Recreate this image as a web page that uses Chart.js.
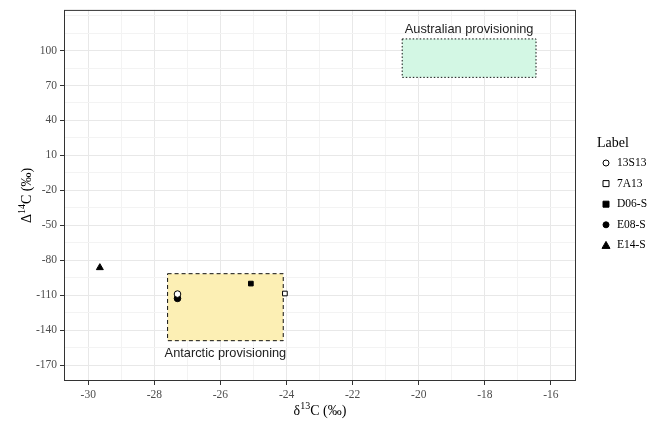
<!DOCTYPE html>
<html>
<head>
<meta charset="utf-8">
<script src="https://cdn.jsdelivr.net/npm/chart.js@4"></script>
<style>
  body { margin: 0; background: #fff; }
  canvas { display: block; }
</style>
</head>
<body>
<canvas id="isoChart" width="648" height="425"></canvas>
<script>
// data
const labels = ["13S13", "7A13", "D06-S", "E08-S", "E14-S"];
const d13C = [-27.3, -24.05, -25.08, -27.3, -29.65];
const D14C = [-109, -108.5, -100, -112.7, -86.3];
const markers = ["circle", "rect", "rect", "circle", "triangle"];
const filled = [false, false, true, true, true];

const xMajor = [-30, -28, -26, -24, -22, -20, -18, -16];
const yMajor = [-170, -140, -110, -80, -50, -20, 10, 40, 70, 100];

// provisioning boxes
const regionNames = ["Antarctic provisioning", "Australian provisioning"];
const regionX = [[-27.6, -24.1], [-20.5, -16.45]];
const regionY = [[-149, -91.5], [77, 110]];
const regionFill = ["#fcefb4", "#d3f7e4"];
const regionDash = [[4, 3], [1.5, 2]];

const serif = "'Liberation Serif', 'DejaVu Serif', serif";
const sans = "'Liberation Sans', Arial, sans-serif";

// ticks incl. minor halves
function withMinor(major, step) {
  let out = [];
  let first = major[0] - step;
  let last = major[major.length - 1] + step;
  for (let v = first; v <= last + 1e-9; v += step / 2) out.push(Math.round(v * 100) / 100);
  return out;
}
function isMajor(list, v) {
  return list.some((m) => Math.abs(m - v) < 1e-6);
}

const datasets = labels.map(function (name, i) {
  return {
    label: name,
    data: [{ x: d13C[i], y: D14C[i] }],
    pointStyle: markers[i],
    pointRadius: markers[i] == "triangle" ? 4 : 3.3,
    backgroundColor: filled[i] ? "#000" : "#fff",
    borderColor: "#000",
    borderWidth: 1,
  };
});

function drawSup(ctx, base, sup, rest, x, y) {
  ctx.font = "14px " + serif;
  let w1 = ctx.measureText(base).width;
  let w3 = ctx.measureText(rest).width;
  ctx.font = "10px " + serif;
  let w2 = ctx.measureText(sup).width;
  let start = x - (w1 + w2 + w3) / 2;
  ctx.textAlign = "left";
  ctx.textBaseline = "alphabetic";
  ctx.font = "14px " + serif;
  ctx.fillText(base, start, y);
  ctx.font = "10px " + serif;
  ctx.fillText(sup, start + w1, y - 6);
  ctx.font = "14px " + serif;
  ctx.fillText(rest, start + w1 + w2, y);
}

const decor = {
  id: "decor",
  beforeDatasetsDraw(chart) {
    const { ctx, scales } = chart;
    ctx.save();
    for (let i = 0; i < regionNames.length; i++) {
      let x0 = scales.x.getPixelForValue(regionX[i][0]);
      let x1 = scales.x.getPixelForValue(regionX[i][1]);
      let y0 = scales.y.getPixelForValue(regionY[i][1]);
      let y1 = scales.y.getPixelForValue(regionY[i][0]);
      ctx.fillStyle = regionFill[i];
      ctx.fillRect(x0, y0, x1 - x0, y1 - y0);
      ctx.setLineDash(regionDash[i]);
      ctx.strokeStyle = "#111";
      ctx.lineWidth = 1;
      ctx.strokeRect(x0, y0, x1 - x0, y1 - y0);
    }
    ctx.restore();
  },
  afterDraw(chart) {
    const { ctx, scales, chartArea } = chart;
    ctx.save();
    // panel border
    ctx.strokeStyle = "#333";
    ctx.lineWidth = 1;
    ctx.strokeRect(chartArea.left + 0.5, chartArea.top + 0.5, chartArea.width - 1, chartArea.height - 1);

    // box labels
    ctx.fillStyle = "#222";
    ctx.font = "12.8px " + sans;
    ctx.textAlign = "center";
    let ax = (scales.x.getPixelForValue(regionX[0][0]) + scales.x.getPixelForValue(regionX[0][1])) / 2;
    ctx.textBaseline = "top";
    ctx.fillText(regionNames[0], ax, scales.y.getPixelForValue(regionY[0][0]) + 6);
    let bx = (scales.x.getPixelForValue(regionX[1][0]) + scales.x.getPixelForValue(regionX[1][1])) / 2;
    ctx.textBaseline = "bottom";
    ctx.fillText(regionNames[1], bx, scales.y.getPixelForValue(regionY[1][1]) - 3);

    // axis titles
    ctx.fillStyle = "#000";
    drawSup(ctx, "\u03b4", "13", "C (\u2030)", (chartArea.left + chartArea.right) / 2, 415);
    ctx.save();
    ctx.translate(31, (chartArea.top + chartArea.bottom) / 2);
    ctx.rotate(-Math.PI / 2);
    drawSup(ctx, "\u0394", "14", "C (\u2030)", 0, 0);
    ctx.restore();

    // legend
    ctx.textAlign = "left";
    ctx.textBaseline = "middle";
    ctx.font = "14px " + serif;
    ctx.fillStyle = "#000";
    ctx.fillText("Label", 597, 143);
    ctx.font = "11.5px " + serif;
    for (let i = 0; i < labels.length; i++) {
      let ly = 163 + i * 20.6;
      let mx = 606;
      ctx.fillStyle = "#000";
      ctx.fillText(labels[i], 617, ly);
      ctx.fillStyle = filled[i] ? "#000" : "#fff";
      ctx.strokeStyle = "#000";
      ctx.lineWidth = 1;
      ctx.beginPath();
      if (markers[i] == "circle") ctx.arc(mx, ly, 3, 0, Math.PI * 2);
      else if (markers[i] == "rect") ctx.rect(mx - 3, ly - 3, 6, 6);
      else { ctx.moveTo(mx, ly - 4); ctx.lineTo(mx + 4, ly + 3); ctx.lineTo(mx - 4, ly + 3); ctx.closePath(); }
      ctx.fill();
      ctx.stroke();
    }
    ctx.restore();
  },
};

const xTicks = withMinor(xMajor, 2);
const yTicks = withMinor(yMajor, 30);

new Chart(document.getElementById("isoChart").getContext("2d"), {
  type: "scatter",
  data: { datasets: datasets },
  options: {
    responsive: false,
    animation: false,
    layout: { padding: { left: 0, top: 7, right: 72, bottom: 0 } },
    scales: {
      x: {
        type: "linear",
        min: -30.735,
        max: -15.24,
        afterFit(scale) { scale.height = 44; },
        afterBuildTicks(scale) {
          scale.ticks = xTicks.filter((v) => v >= scale.min && v <= scale.max).map((v) => ({ value: v }));
        },
        border: { display: false },
        grid: {
          color: (c) => (c.tick && isMajor(xMajor, c.tick.value) ? "#e8e8e8" : "#f3f3f3"),
          lineWidth: 1,
          tickLength: 4,
          tickColor: (c) => (c.tick && isMajor(xMajor, c.tick.value) ? "#333" : "rgba(0,0,0,0)"),
        },
        ticks: {
          autoSkip: false,
          maxRotation: 0,
          padding: 3,
          color: "#4d4d4d",
          font: { family: serif, size: 11.5 },
          callback: (v) => (isMajor(xMajor, v) ? String(v) : ""),
        },
      },
      y: {
        type: "linear",
        min: -183.6,
        max: 134.9,
        afterFit(scale) { scale.width = 64; },
        afterBuildTicks(scale) {
          scale.ticks = yTicks.filter((v) => v >= scale.min && v <= scale.max).map((v) => ({ value: v }));
        },
        border: { display: false },
        grid: {
          color: (c) => (c.tick && isMajor(yMajor, c.tick.value) ? "#e8e8e8" : "#f3f3f3"),
          lineWidth: 1,
          tickLength: 4,
          tickColor: (c) => (c.tick && isMajor(yMajor, c.tick.value) ? "#333" : "rgba(0,0,0,0)"),
        },
        ticks: {
          autoSkip: false,
          padding: 3,
          color: "#4d4d4d",
          font: { family: serif, size: 11.5 },
          callback: (v) => (isMajor(yMajor, v) ? String(v) : ""),
        },
      },
    },
    plugins: {
      legend: { display: false },
      tooltip: { enabled: false },
    },
  },
  plugins: [decor],
});
</script>
</body>
</html>
